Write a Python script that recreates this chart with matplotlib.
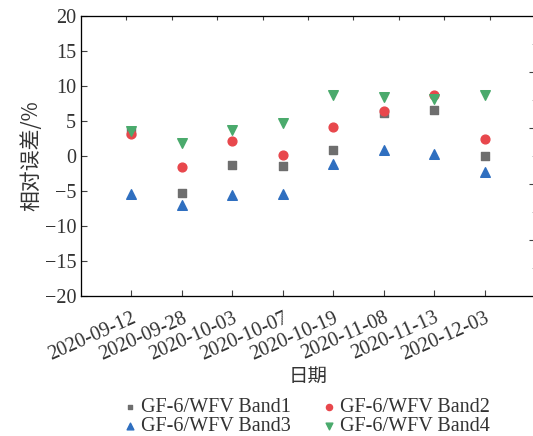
import matplotlib.pyplot as plt
from matplotlib.ticker import FixedLocator

dates = ["2020-09-12", "2020-09-28", "2020-10-03", "2020-10-07",
         "2020-10-19", "2020-11-08", "2020-11-13", "2020-12-03"]
band1 = [3.4, -5.3, -1.3, -1.4, 0.85, 6.2, 6.6, -0.05]
band2 = [3.2, -1.6, 2.2, 0.1, 4.2, 6.5, 8.8, 2.5]
band3 = [-5.4, -7.0, -5.5, -5.4, -1.1, 0.8, 0.25, -2.3]
band4 = [3.6, 1.8, 3.7, 4.7, 8.8, 8.5, 8.2, 8.7]
labels = ["GF-6/WFV Band1", "GF-6/WFV Band2", "GF-6/WFV Band3", "GF-6/WFV Band4"]

serif = "Liberation Serif"
cjk = ["Noto Sans CJK SC", "DejaVu Sans"]
txt = "#333333"
plt.rcParams["font.family"] = serif

fig = plt.figure(figsize=(5.33, 4.36), dpi=100)
ax = fig.add_axes([0.152, 0.321, 0.852, 0.642])

x = range(len(dates))
h1 = ax.scatter(x, band1, marker="s", s=26, color="#6e6e6e", label=labels[0], zorder=3)
h2 = ax.scatter(x, band2, marker="o", s=40, color="#e8474c", label=labels[1], zorder=3)
h3 = ax.scatter(x, band3, marker="^", s=48, color="#2f6fc0", label=labels[2], zorder=3)
h4 = ax.scatter(x, band4, marker="v", s=48, color="#4aaa6c", label=labels[3], zorder=3)

ax.set_xlim(-1, 8)
ax.set_ylim(-20, 20)
ax.set_yticks(range(-20, 21, 5))
ax.set_yticklabels([str(v).replace("-", "\u2212") for v in range(-20, 21, 5)])
ax.set_xticks(list(x))
ax.set_xticklabels(dates, rotation=24, ha="right", rotation_mode="anchor")
ax.tick_params(direction="in", length=4, colors="#404040", labelcolor=txt, labelsize=14.5)
ax.tick_params(axis="x", pad=9)
for s in ax.spines.values():
    s.set_color("#404040")

ax.set_ylabel("相对误差/%", family=cjk, fontsize=15, color=txt, labelpad=2)
ax.set_xlabel("日期", family=cjk, fontsize=14, color=txt, labelpad=1)

# faint ticks on top and right
axt = ax.twiny()
axt.set_xlim(0, 10)
axt.set_xticks(range(1, 10))
axt.tick_params(direction="in", length=3, colors="#404040", labeltop=False)
axr = ax.twinx()
axr.set_ylim(-20, 20)
axr.yaxis.set_major_locator(FixedLocator([-12, -4, 4, 12]))
axr.yaxis.set_minor_locator(FixedLocator([-16, -8, 0, 8, 16]))
axr.tick_params(which="major", direction="in", length=4, colors="#404040", labelright=False)
axr.tick_params(which="minor", direction="in", length=2, colors="#999999")

fig.legend([h1, h3, h2, h4], [labels[0], labels[2], labels[1], labels[3]],
           loc="upper center", bbox_to_anchor=(0.574, 0.105), ncol=2, frameon=False,
           fontsize=14.5, handlelength=0.8, handletextpad=0.15, columnspacing=1.5,
           labelspacing=0.0, markerscale=0.7, labelcolor=txt, borderaxespad=0)

fig.savefig("out.png", dpi=100)
